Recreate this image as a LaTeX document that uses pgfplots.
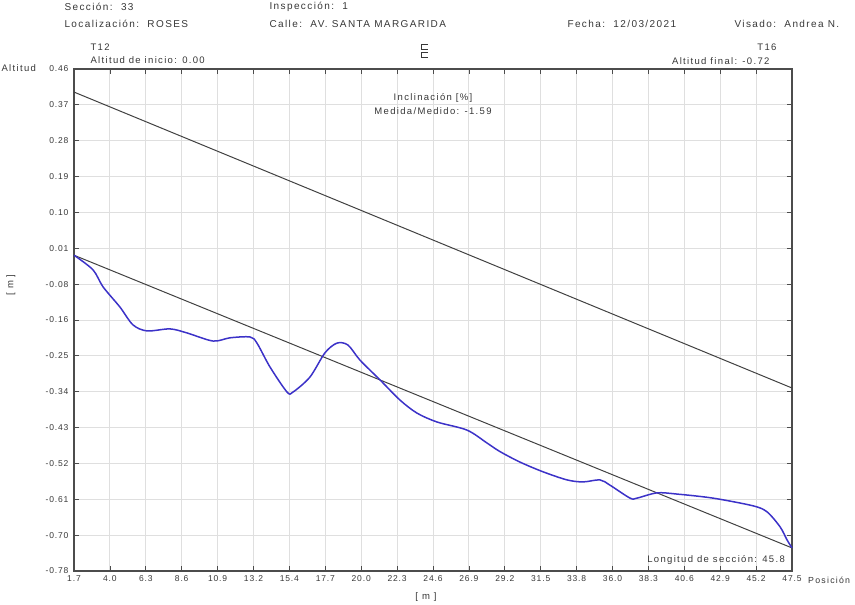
\documentclass[border=0pt]{standalone}
\usepackage{pgfplots}
\pgfplotsset{compat=1.18}
\usepackage{fontspec}
\setmainfont{Liberation Sans}[LetterSpace=14]
\newfontfamily\tickf{Liberation Sans}[LetterSpace=10]
\definecolor{txt}{RGB}{55,55,55}
\definecolor{prof}{RGB}{60,50,200}
\definecolor{lin}{RGB}{65,65,65}
\begin{document}
\begin{tikzpicture}[x=1pt,y=1pt,font=\fontsize{10}{12}\selectfont,text=txt]
\useasboundingbox (0,0) rectangle (855,605);
\begin{axis}[at={(74pt,34pt)}, anchor=south west, scale only axis,
  width=718pt, height=502pt,
  xmin=1.7, xmax=47.5, ymin=-0.78, ymax=0.46,
  xtick={1.7,3.99,6.28,8.57,10.86,13.15,15.44,17.73,20.02,22.31,24.6,26.89,29.18,31.47,33.76,36.05,38.34,40.63,42.92,45.21,47.5},
  xticklabels={1.7,4.0,6.3,8.6,10.9,13.2,15.4,17.7,20.0,22.3,24.6,26.9,29.2,31.5,33.8,36.0,38.3,40.6,42.9,45.2,47.5},
  ytick={0.46,0.371429,0.282857,0.194286,0.105714,0.017143,-0.071429,-0.16,-0.248571,-0.337143,-0.425714,-0.514286,-0.602857,-0.691429,-0.78},
  yticklabels={0.46,0.37,0.28,0.19,0.10,0.01,-0.08,-0.16,-0.25,-0.34,-0.43,-0.52,-0.61,-0.70,-0.78},
  grid=major, major grid style={gray!25, line width=0.9pt},
  axis line style={gray!60!black, line width=1.4pt},
  tick style={gray!60!black, line width=0.8pt}, major tick length=5pt,
  ticklabel style={font=\tickf\fontsize{8.5}{10}\selectfont, text=txt},
  xticklabel style={yshift=-1pt},
  yticklabel style={xshift=-2pt},
  clip=false,
]
\addplot[lin, line width=1pt] coordinates {(1.7,0.403) (47.5,-0.328)};
\addplot[lin, line width=1pt] coordinates {(1.7,0.000) (47.5,-0.723)};
\addplot[prof, line width=1.5pt, smooth, tension=0.5] coordinates {
(1.70,0.000) (2.91,-0.036) (3.55,-0.078) (4.63,-0.128) (5.46,-0.172)
(6.36,-0.187) (7.82,-0.182) (8.91,-0.192) (10.57,-0.212) (11.65,-0.204)
(12.93,-0.202) (13.37,-0.217) (14.20,-0.276) (15.29,-0.338) (15.67,-0.338)
(16.75,-0.301) (17.71,-0.241) (18.48,-0.217) (19.18,-0.222) (19.94,-0.259)
(21.22,-0.308) (22.50,-0.358) (23.58,-0.390) (24.86,-0.412) (26.77,-0.432)
(28.05,-0.464) (28.87,-0.485) (30.15,-0.511) (31.62,-0.535) (33.15,-0.555)
(34.17,-0.560) (35.25,-0.555) (35.89,-0.568) (37.17,-0.600) (37.61,-0.600)
(38.89,-0.587) (40.17,-0.590) (42.46,-0.600) (45.01,-0.619) (45.91,-0.634)
(46.74,-0.671) (47.18,-0.703) (47.50,-0.723)};
\node[align=center, font=\fontsize{9.5}{14}\selectfont] at (rel axis cs:0.5,0.93) {Inclinación [\%]\\Medida/Medido: -1.59};
\node[anchor=south east, font=\fontsize{9.5}{11}\selectfont] at (rel axis cs:0.995,0.005) {Longitud de sección: 45.8};
\end{axis}
\node[anchor=west] at (61,598) {Sección:\ \ 33};
\node[anchor=west] at (61,581) {Localización:\ \ ROSES};
\node[anchor=west] at (266,598) {Inspección:\ \ 1};
\node[anchor=west] at (266,581) {Calle:\ \ AV. SANTA MARGARIDA};
\node[anchor=west] at (564,581) {Fecha:\ \ 12/03/2021};
\node[anchor=west] at (731,581) {Visado:\ \ Andrea N.};
\node[anchor=west, font=\fontsize{9.5}{11}\selectfont] at (87,558) {T12};
\node[anchor=west, font=\fontsize{9.5}{11}\selectfont] at (87,545) {Altitud de inicio: 0.00};
\node[anchor=east, font=\fontsize{9.5}{11}\selectfont] at (780,558) {T16};
\node[anchor=east, font=\fontsize{9.5}{11}\selectfont] at (773,544) {Altitud final: -0.72};
\node[anchor=west, font=\fontsize{9.5}{11}\selectfont] at (-2,537) {Altitud};
\node[rotate=90, font=\fontsize{9.5}{11}\selectfont] at (11,320) {[ m ]};
\node[anchor=west, inner sep=0pt, font=\fontsize{8.8}{11}\selectfont] at (808,25) {Posición};
\node[font=\fontsize{9.5}{11}\selectfont] at (426,8) {[ m ]};
\draw[txt, line width=0.8pt] (428,561)--(421,561)--(421,556)--(428,556);
\draw[txt, line width=0.8pt] (428,553)--(421,553)--(421,548)--(428,548);
\end{tikzpicture}
\end{document}
